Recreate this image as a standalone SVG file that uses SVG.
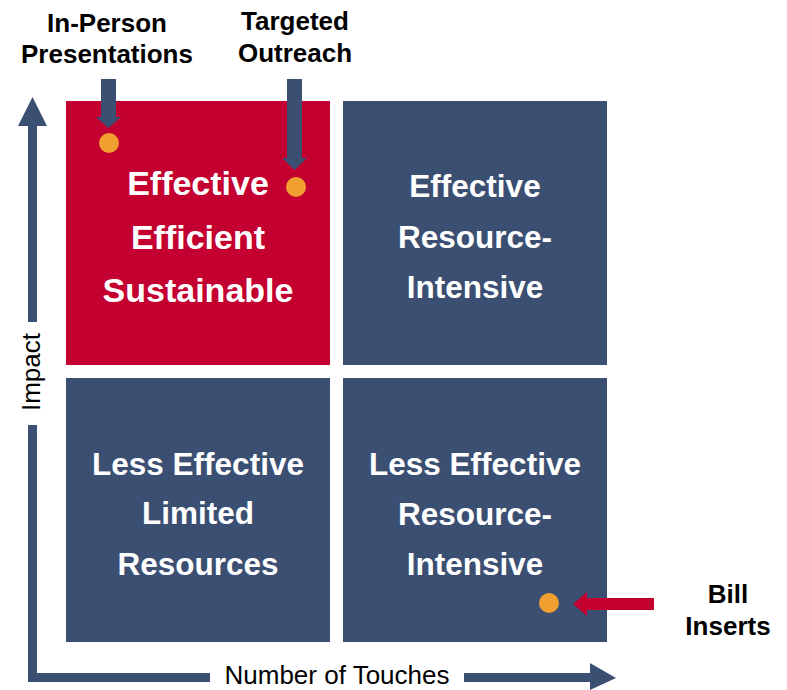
<svg xmlns="http://www.w3.org/2000/svg" width="787" height="690" viewBox="0 0 787 690">
  <style>
    .quad-red { fill: #C3002F; }
    .quad-blue { fill: #3B4F72; }
    .axis { fill: #3B4F72; }
    .arrow-blue { fill: #3B4F72; }
    .arrow-red { fill: #C3002F; }
    .dot { fill: #F0A030; }
    .qlabel { font-family: "Liberation Sans", Arial, sans-serif; font-weight: bold; fill: #FFFFFF; text-anchor: middle; }
    .callout { font-family: "Liberation Sans", Arial, sans-serif; font-weight: bold; font-size: 26px; fill: #000000; text-anchor: middle; }
    .axislabel { font-family: "Liberation Sans", Arial, sans-serif; font-size: 26px; fill: #000000; text-anchor: middle; }
  </style>
  <rect width="787" height="690" fill="#FFFFFF"/>

  <!-- Quadrants -->
  <g id="quad-top-left">
    <rect class="quad-red" x="66" y="101" width="264" height="264"/>
    <text class="qlabel" font-size="34" x="198" y="195">Effective</text>
    <text class="qlabel" font-size="34" x="198" y="249">Efficient</text>
    <text class="qlabel" font-size="34" x="198" y="302">Sustainable</text>
  </g>
  <g id="quad-top-right">
    <rect class="quad-blue" x="343" y="101" width="264" height="264"/>
    <text class="qlabel" font-size="31.5" x="475" y="197">Effective</text>
    <text class="qlabel" font-size="31.5" x="475" y="248">Resource-</text>
    <text class="qlabel" font-size="31.5" x="475" y="298">Intensive</text>
  </g>
  <g id="quad-bottom-left">
    <rect class="quad-blue" x="66" y="378" width="264" height="264"/>
    <text class="qlabel" font-size="31.5" x="198" y="475">Less Effective</text>
    <text class="qlabel" font-size="31.5" x="198" y="524">Limited</text>
    <text class="qlabel" font-size="31.5" x="198" y="575">Resources</text>
  </g>
  <g id="quad-bottom-right">
    <rect class="quad-blue" x="343" y="378" width="264" height="264"/>
    <text class="qlabel" font-size="31.5" x="475" y="475">Less Effective</text>
    <text class="qlabel" font-size="31.5" x="475" y="525">Resource-</text>
    <text class="qlabel" font-size="31.5" x="475" y="575">Intensive</text>
  </g>

  <!-- Axes -->
  <g id="axes">
    <polygon class="axis" points="32.5,97 47,126 37,126 37,322 28,322 28,126 18,126"/>
    <rect class="axis" x="28" y="425" width="9" height="257"/>
    <rect class="axis" x="28" y="673" width="182" height="9"/>
    <polygon class="axis" points="464,673 590,673 590,663 616,678 590,690 590,682 464,682"/>
    <text class="axislabel" transform="translate(40,372) rotate(-90)" x="0" y="0">Impact</text>
    <text class="axislabel" x="337" y="684">Number of Touches</text>
  </g>

  <!-- Callout labels -->
  <g id="label-in-person">
    <text class="callout" x="107" y="32">In-Person</text>
    <text class="callout" x="107" y="63">Presentations</text>
  </g>
  <g id="label-targeted">
    <text class="callout" x="295" y="30">Targeted</text>
    <text class="callout" x="295" y="62">Outreach</text>
  </g>
  <g id="label-bill">
    <text class="callout" x="728" y="603">Bill</text>
    <text class="callout" x="728" y="635">Inserts</text>
  </g>

  <!-- Markers -->
  <g id="dot-in-person"><circle class="dot" cx="109" cy="143" r="10"/></g>
  <g id="dot-targeted"><circle class="dot" cx="296" cy="187" r="10"/></g>
  <g id="dot-bill"><circle class="dot" cx="549" cy="603" r="10"/></g>

  <!-- Pointer arrows -->
  <g id="connectors">
    <polygon class="arrow-blue" points="101,79 116,79 116,117 121,117 108.5,128 96,117 101,117"/>
    <polygon class="arrow-blue" points="287,79 302,79 302,158 307,158 294.5,170 282,158 287,158"/>
    <polygon class="arrow-red" points="654,598 654,610 587,610 587,616 573,604 587,592 587,598"/>
  </g>
</svg>
